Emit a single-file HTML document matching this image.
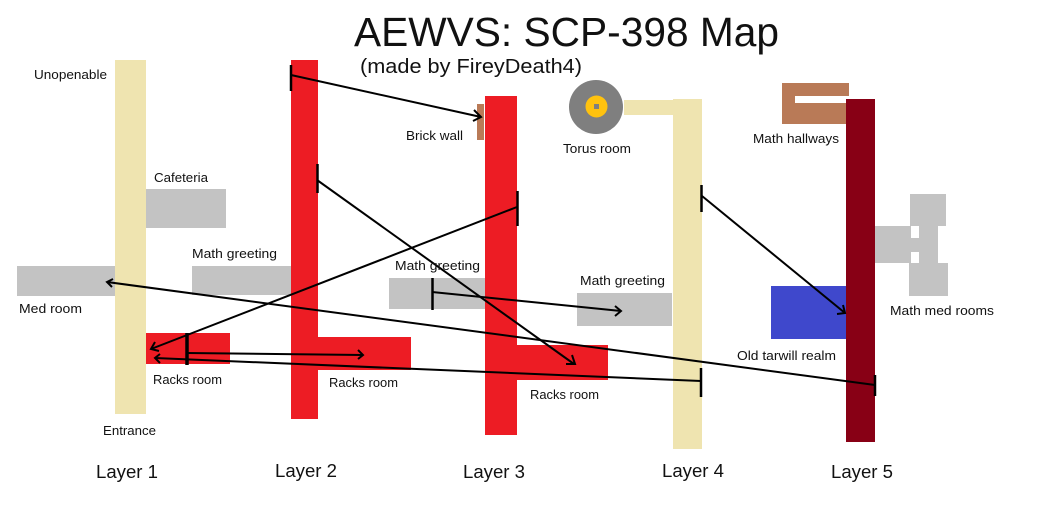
<!DOCTYPE html>
<html>
<head>
<meta charset="utf-8">
<style>
html,body{margin:0;padding:0;background:#fff;width:1049px;height:509px;overflow:hidden}
svg{display:block}
text{font-family:"Liberation Sans",sans-serif;fill:#111}
.l{font-size:13px}
.y{font-size:18px}
.a{fill:none;stroke:#000;stroke-width:2}
.t{stroke:#000;stroke-width:2.5}
</style>
</head>
<body>
<svg width="1049" height="509" viewBox="0 0 1049 509" xmlns="http://www.w3.org/2000/svg">
<rect width="1049" height="509" fill="#fff"/>

<!-- gray rooms -->
<rect x="146" y="189" width="80" height="39" fill="#c3c3c3"/>
<rect x="17" y="266" width="99" height="30" fill="#c3c3c3"/>
<rect x="192" y="266" width="99" height="29" fill="#c3c3c3"/>
<rect x="389" y="278" width="96" height="31" fill="#c3c3c3"/>
<rect x="577" y="293" width="95" height="33" fill="#c3c3c3"/>

<!-- layer 1 -->
<rect x="115" y="60" width="31" height="354" fill="#efe4b0"/>
<rect x="146" y="333" width="84" height="31" fill="#ed1c24"/>

<!-- layer 2 -->
<rect x="291" y="60" width="27" height="359" fill="#ed1c24"/>
<rect x="318" y="337" width="93" height="33" fill="#ed1c24"/>

<!-- layer 3 -->
<rect x="485" y="96" width="32" height="339" fill="#ed1c24"/>
<rect x="517" y="345" width="91" height="35" fill="#ed1c24"/>
<rect x="477" y="104" width="7" height="36" fill="#b97a57"/>

<!-- layer 4 -->
<rect x="624" y="100" width="49" height="15" fill="#efe4b0"/>
<rect x="673" y="99" width="29" height="350" fill="#efe4b0"/>
<circle cx="596" cy="107" r="27" fill="#7f7f7f"/>
<circle cx="596.500" cy="106.500" r="11" fill="#ffc20e"/>
<rect x="594" y="104" width="5" height="5" fill="#7f7f7f"/>

<!-- layer 5 -->
<rect x="782" y="83" width="67" height="13" fill="#b97a57"/>
<rect x="782" y="83" width="13" height="41" fill="#b97a57"/>
<rect x="782" y="103" width="64" height="21" fill="#b97a57"/>
<rect x="771" y="286" width="75" height="53" fill="#3f48cc"/>
<rect x="846" y="99" width="29" height="343" fill="#880015"/>

<!-- math med rooms -->
<rect x="875" y="226" width="36" height="37" fill="#c3c3c3"/>
<rect x="910" y="194" width="36" height="32" fill="#c3c3c3"/>
<rect x="909" y="263" width="39" height="33" fill="#c3c3c3"/>
<rect x="919" y="226" width="19" height="37" fill="#c3c3c3"/>
<rect x="910" y="238" width="10" height="14" fill="#c3c3c3"/>

<!-- connectors -->
<g>
<line class="t" x1="291" y1="65" x2="291" y2="91"/>
<line class="a" x1="291" y1="75" x2="481" y2="117"/>
<path class="a" d="M474 110 L481 117 L473 121"/>

<line class="t" x1="317.500" y1="164" x2="317.500" y2="193"/>
<line class="a" x1="317" y1="180" x2="574" y2="364"/>
<path class="a" d="M572 355 L575 364 L566 364"/>

<line class="t" x1="517.500" y1="191" x2="517.500" y2="226"/>
<line class="a" x1="517" y1="207" x2="151" y2="349"/>
<path class="a" d="M155 342 L151 349 L159 351"/>

<line x1="187" y1="333" x2="187" y2="365" stroke="#000" stroke-width="3.500"/>
<line class="a" x1="187" y1="353" x2="363" y2="355"/>
<path class="a" d="M358 350 L363 355 L358 359"/>
<line class="a" x1="701" y1="381" x2="155" y2="358"/>
<path class="a" d="M160 354 L155 358 L160 363"/>

<line class="t" x1="701" y1="368" x2="701" y2="397"/>

<line class="t" x1="875" y1="375" x2="875" y2="396"/>
<line class="a" x1="875" y1="385" x2="107" y2="282"/>
<path class="a" d="M113 279 L107 282 L112 287"/>

<line class="t" x1="432.500" y1="278" x2="432.500" y2="310"/>
<line class="a" x1="432" y1="292" x2="621" y2="311"/>
<path class="a" d="M615 306 L621 311 L615 316"/>

<line class="t" x1="701.500" y1="185" x2="701.500" y2="212"/>
<line class="a" x1="702" y1="196" x2="845" y2="313"/>
<path class="a" d="M843 305 L845 313 L837 314"/>
</g>

<!-- title -->
<text x="354" y="46" font-size="41" textLength="425" lengthAdjust="spacingAndGlyphs">AEWVS: SCP-398 Map</text>
<text x="360" y="73" font-size="20" textLength="222" lengthAdjust="spacingAndGlyphs">(made by FireyDeath4)</text>

<!-- labels -->
<text class="l" x="34" y="79" textLength="73" lengthAdjust="spacingAndGlyphs">Unopenable</text>
<text class="l" x="154" y="182" textLength="54" lengthAdjust="spacingAndGlyphs">Cafeteria</text>
<text class="l" x="192" y="258" textLength="85" lengthAdjust="spacingAndGlyphs">Math greeting</text>
<text class="l" x="395" y="270" textLength="85" lengthAdjust="spacingAndGlyphs">Math greeting</text>
<text class="l" x="580" y="285" textLength="85" lengthAdjust="spacingAndGlyphs">Math greeting</text>
<text class="l" x="19" y="313" textLength="63" lengthAdjust="spacingAndGlyphs">Med room</text>
<text class="l" x="153" y="384" textLength="69" lengthAdjust="spacingAndGlyphs">Racks room</text>
<text class="l" x="329" y="387" textLength="69" lengthAdjust="spacingAndGlyphs">Racks room</text>
<text class="l" x="530" y="399" textLength="69" lengthAdjust="spacingAndGlyphs">Racks room</text>
<text class="l" x="103" y="435" textLength="53" lengthAdjust="spacingAndGlyphs">Entrance</text>
<text class="l" x="406" y="140" textLength="57" lengthAdjust="spacingAndGlyphs">Brick wall</text>
<text class="l" x="563" y="153" textLength="68" lengthAdjust="spacingAndGlyphs">Torus room</text>
<text class="l" x="753" y="143" textLength="86" lengthAdjust="spacingAndGlyphs">Math hallways</text>
<text class="l" x="890" y="315" textLength="104" lengthAdjust="spacingAndGlyphs">Math med rooms</text>
<text class="l" x="737" y="360" textLength="99" lengthAdjust="spacingAndGlyphs">Old tarwill realm</text>

<text class="y" x="96" y="478" textLength="62" lengthAdjust="spacingAndGlyphs">Layer 1</text>
<text class="y" x="275" y="477" textLength="62" lengthAdjust="spacingAndGlyphs">Layer 2</text>
<text class="y" x="463" y="478" textLength="62" lengthAdjust="spacingAndGlyphs">Layer 3</text>
<text class="y" x="662" y="477" textLength="62" lengthAdjust="spacingAndGlyphs">Layer 4</text>
<text class="y" x="831" y="478" textLength="62" lengthAdjust="spacingAndGlyphs">Layer 5</text>
</svg>
</body>
</html>
